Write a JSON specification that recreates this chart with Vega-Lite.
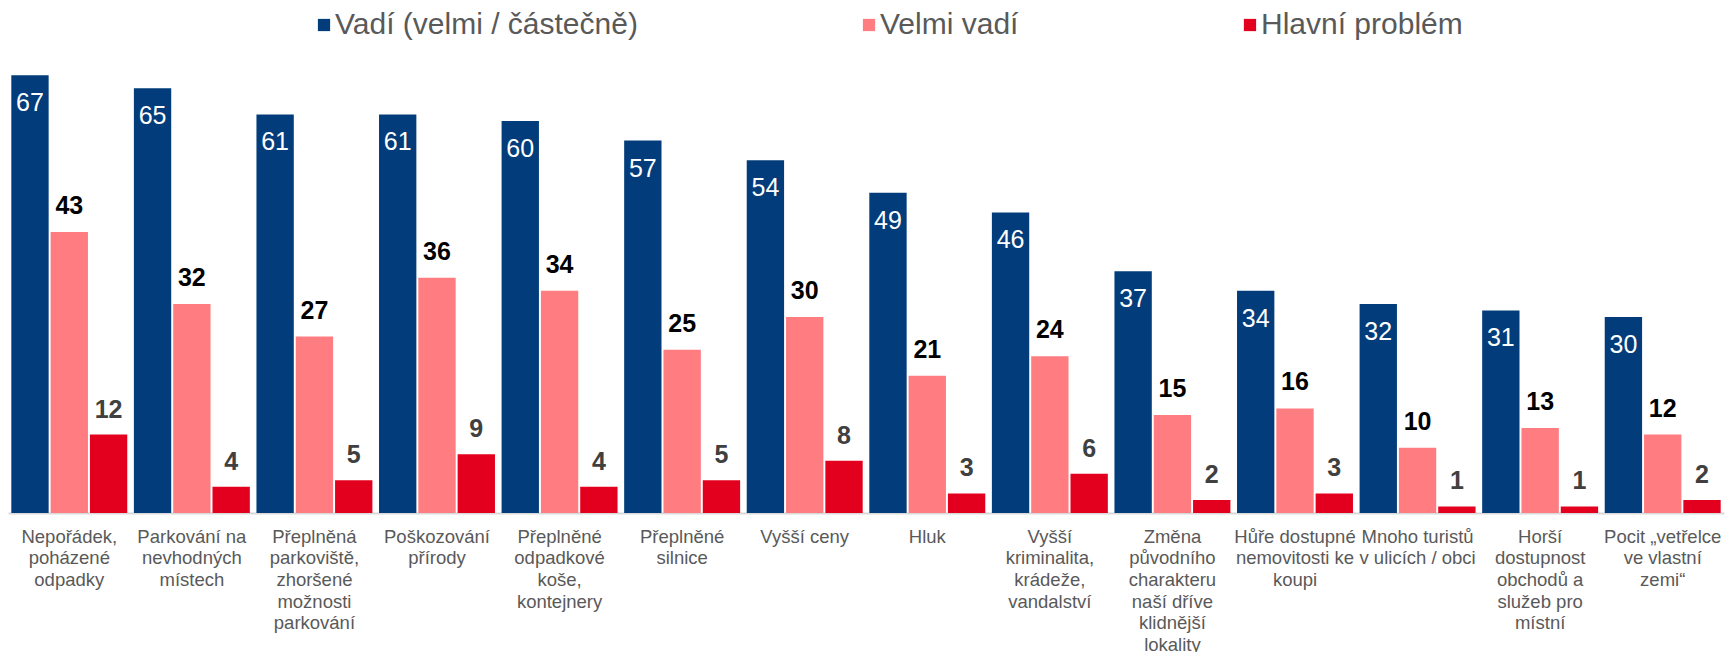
{
  "$schema": "https://vega.github.io/schema/vega-lite/v6.json",
  "width": 1716,
  "height": 490,
  "autosize": {"type": "none"},
  "padding": {"left": 8, "top": 23, "right": 4, "bottom": 139},
  "background": "white",
  "config": {
    "view": {"stroke": null},
    "font": "Liberation Sans"
  },
  "data": {
    "values": [
      {"kategorie": "Nepořádek,|poházené|odpadky", "serie": "Vadí (velmi / částečně)", "hodnota": 67},
      {"kategorie": "Nepořádek,|poházené|odpadky", "serie": "Velmi vadí", "hodnota": 43},
      {"kategorie": "Nepořádek,|poházené|odpadky", "serie": "Hlavní problém", "hodnota": 12},
      {"kategorie": "Parkování na|nevhodných|místech", "serie": "Vadí (velmi / částečně)", "hodnota": 65},
      {"kategorie": "Parkování na|nevhodných|místech", "serie": "Velmi vadí", "hodnota": 32},
      {"kategorie": "Parkování na|nevhodných|místech", "serie": "Hlavní problém", "hodnota": 4},
      {"kategorie": "Přeplněná|parkoviště,|zhoršené|možnosti|parkování", "serie": "Vadí (velmi / částečně)", "hodnota": 61},
      {"kategorie": "Přeplněná|parkoviště,|zhoršené|možnosti|parkování", "serie": "Velmi vadí", "hodnota": 27},
      {"kategorie": "Přeplněná|parkoviště,|zhoršené|možnosti|parkování", "serie": "Hlavní problém", "hodnota": 5},
      {"kategorie": "Poškozování|přírody", "serie": "Vadí (velmi / částečně)", "hodnota": 61},
      {"kategorie": "Poškozování|přírody", "serie": "Velmi vadí", "hodnota": 36},
      {"kategorie": "Poškozování|přírody", "serie": "Hlavní problém", "hodnota": 9},
      {"kategorie": "Přeplněné|odpadkové|koše,|kontejnery", "serie": "Vadí (velmi / částečně)", "hodnota": 60},
      {"kategorie": "Přeplněné|odpadkové|koše,|kontejnery", "serie": "Velmi vadí", "hodnota": 34},
      {"kategorie": "Přeplněné|odpadkové|koše,|kontejnery", "serie": "Hlavní problém", "hodnota": 4},
      {"kategorie": "Přeplněné|silnice", "serie": "Vadí (velmi / částečně)", "hodnota": 57},
      {"kategorie": "Přeplněné|silnice", "serie": "Velmi vadí", "hodnota": 25},
      {"kategorie": "Přeplněné|silnice", "serie": "Hlavní problém", "hodnota": 5},
      {"kategorie": "Vyšší ceny", "serie": "Vadí (velmi / částečně)", "hodnota": 54},
      {"kategorie": "Vyšší ceny", "serie": "Velmi vadí", "hodnota": 30},
      {"kategorie": "Vyšší ceny", "serie": "Hlavní problém", "hodnota": 8},
      {"kategorie": "Hluk", "serie": "Vadí (velmi / částečně)", "hodnota": 49},
      {"kategorie": "Hluk", "serie": "Velmi vadí", "hodnota": 21},
      {"kategorie": "Hluk", "serie": "Hlavní problém", "hodnota": 3},
      {"kategorie": "Vyšší|kriminalita,|krádeže,|vandalství", "serie": "Vadí (velmi / částečně)", "hodnota": 46},
      {"kategorie": "Vyšší|kriminalita,|krádeže,|vandalství", "serie": "Velmi vadí", "hodnota": 24},
      {"kategorie": "Vyšší|kriminalita,|krádeže,|vandalství", "serie": "Hlavní problém", "hodnota": 6},
      {"kategorie": "Změna|původního|charakteru|naší dříve|klidnější|lokality", "serie": "Vadí (velmi / částečně)", "hodnota": 37},
      {"kategorie": "Změna|původního|charakteru|naší dříve|klidnější|lokality", "serie": "Velmi vadí", "hodnota": 15},
      {"kategorie": "Změna|původního|charakteru|naší dříve|klidnější|lokality", "serie": "Hlavní problém", "hodnota": 2},
      {"kategorie": "Hůře dostupné|nemovitosti ke|koupi", "serie": "Vadí (velmi / částečně)", "hodnota": 34},
      {"kategorie": "Hůře dostupné|nemovitosti ke|koupi", "serie": "Velmi vadí", "hodnota": 16},
      {"kategorie": "Hůře dostupné|nemovitosti ke|koupi", "serie": "Hlavní problém", "hodnota": 3},
      {"kategorie": "Mnoho turistů|v ulicích / obci", "serie": "Vadí (velmi / částečně)", "hodnota": 32},
      {"kategorie": "Mnoho turistů|v ulicích / obci", "serie": "Velmi vadí", "hodnota": 10},
      {"kategorie": "Mnoho turistů|v ulicích / obci", "serie": "Hlavní problém", "hodnota": 1},
      {"kategorie": "Horší|dostupnost|obchodů a|služeb pro|místní", "serie": "Vadí (velmi / částečně)", "hodnota": 31},
      {"kategorie": "Horší|dostupnost|obchodů a|služeb pro|místní", "serie": "Velmi vadí", "hodnota": 13},
      {"kategorie": "Horší|dostupnost|obchodů a|služeb pro|místní", "serie": "Hlavní problém", "hodnota": 1},
      {"kategorie": "Pocit „vetřelce|ve vlastní|zemi“", "serie": "Vadí (velmi / částečně)", "hodnota": 30},
      {"kategorie": "Pocit „vetřelce|ve vlastní|zemi“", "serie": "Velmi vadí", "hodnota": 12},
      {"kategorie": "Pocit „vetřelce|ve vlastní|zemi“", "serie": "Hlavní problém", "hodnota": 2}
    ]
  },
  "encoding": {
    "x": {
      "field": "kategorie",
      "type": "nominal",
      "sort": null,
      "scale": {"paddingInner": 0.054, "paddingOuter": 0.027},
      "axis": {
        "title": null,
        "labelExpr": "split(datum.value, '|')",
        "labelAngle": 0,
        "labelFont": "Liberation Sans",
        "labelFontSize": 18.5,
        "labelLineHeight": 21.7,
        "labelColor": "#595959",
        "labelPadding": 14,
        "labelBaseline": "top",
        "labelOverlap": false,
        "labelBound": false,
        "labelLimit": 300,
        "ticks": false,
        "domainColor": "#d9d9d9",
        "domainWidth": 2
      }
    },
    "xOffset": {
      "field": "serie",
      "type": "nominal",
      "sort": ["Vadí (velmi / částečně)", "Velmi vadí", "Hlavní problém"],
      "scale": {"paddingInner": 0.05, "paddingOuter": 0}
    },
    "y": {
      "field": "hodnota",
      "type": "quantitative",
      "scale": {"domain": [0, 75], "nice": false},
      "axis": null
    }
  },
  "layer": [
    {
      "mark": {"type": "bar"},
      "encoding": {
        "color": {
          "field": "serie",
          "type": "nominal",
          "sort": ["Vadí (velmi / částečně)", "Velmi vadí", "Hlavní problém"],
          "scale": {
            "domain": ["Vadí (velmi / částečně)", "Velmi vadí", "Hlavní problém"],
            "range": ["#023c7a", "#ff7c80", "#e3001e"]
          },
          "legend": {
            "title": null,
            "orient": "none",
            "direction": "horizontal",
            "legendX": 301,
            "legendY": -13,
            "columnPadding": 216,
            "symbolType": "square",
            "symbolSize": 150,
            "symbolStrokeWidth": 0,
            "labelFont": "Liberation Sans",
            "labelFontSize": 30,
            "labelColor": "#595959",
            "labelOffset": -4,
            "labelLimit": 500
          }
        }
      }
    },
    {
      "transform": [{"filter": "datum.serie == 'Vadí (velmi / částečně)'"}],
      "mark": {"type": "text", "color": "white", "fontSize": 25, "font": "Liberation Sans", "baseline": "alphabetic", "dy": 36},
      "encoding": {"text": {"field": "hodnota", "type": "quantitative"}}
    },
    {
      "transform": [{"filter": "datum.serie == 'Velmi vadí'"}],
      "mark": {"type": "text", "color": "#000000", "fontSize": 25, "fontWeight": "bold", "font": "Liberation Sans", "baseline": "alphabetic", "dy": -18},
      "encoding": {"text": {"field": "hodnota", "type": "quantitative"}}
    },
    {
      "transform": [{"filter": "datum.serie == 'Hlavní problém'"}],
      "mark": {"type": "text", "color": "#404040", "fontSize": 25, "fontWeight": "bold", "font": "Liberation Sans", "baseline": "alphabetic", "dy": -17},
      "encoding": {"text": {"field": "hodnota", "type": "quantitative"}}
    }
  ]
}
